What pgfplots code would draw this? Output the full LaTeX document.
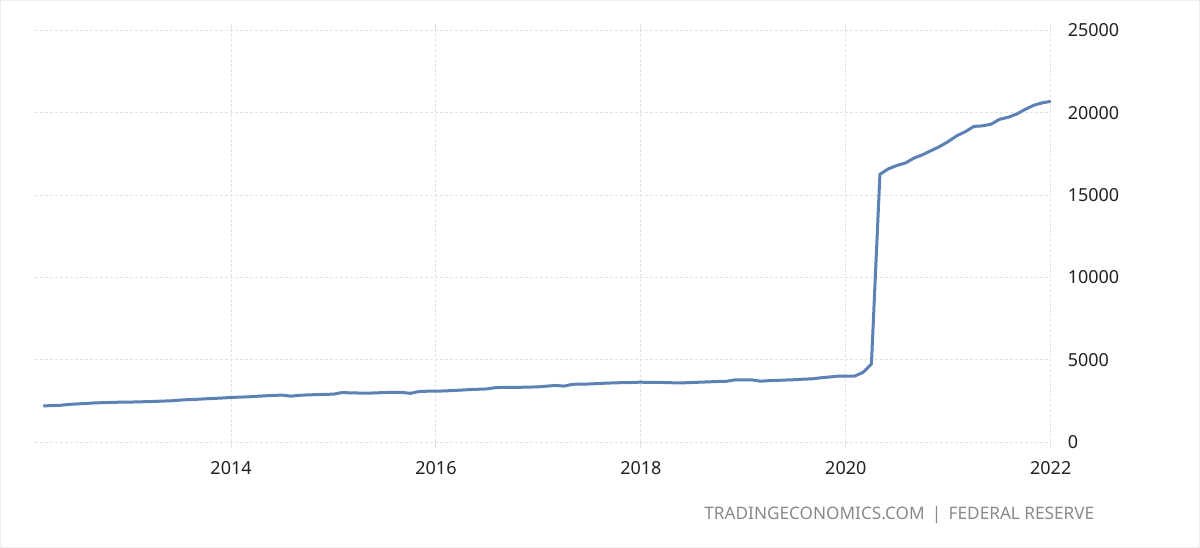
\documentclass[border=0pt]{standalone}
\usepackage{pgfplots}
\pgfplotsset{compat=1.18}
\usepackage{fontspec}
\setmainfont{Noto Sans}
\definecolor{lineblue}{HTML}{5B81B5}
\definecolor{gridgray}{HTML}{E2E2E2}
\definecolor{labelgray}{HTML}{8A8A8A}
\definecolor{ticktext}{HTML}{222222}
\pgfplotstableread{
x y
2012.167 2200
2012.250 2215
2012.333 2235
2012.417 2290
2012.500 2320
2012.583 2345
2012.667 2380
2012.750 2395
2012.833 2410
2012.917 2425
2013.000 2430
2013.083 2440
2013.167 2455
2013.250 2470
2013.333 2490
2013.417 2510
2013.500 2550
2013.583 2580
2013.667 2600
2013.750 2630
2013.833 2650
2013.917 2680
2014.000 2710
2014.083 2730
2014.167 2750
2014.250 2780
2014.333 2810
2014.417 2840
2014.500 2850
2014.583 2790
2014.667 2840
2014.750 2870
2014.833 2880
2014.917 2900
2015.000 2910
2015.083 3010
2015.167 2990
2015.250 2980
2015.333 2970
2015.417 2990
2015.500 3010
2015.583 3020
2015.667 3020
2015.750 2960
2015.833 3070
2015.917 3090
2016.000 3090
2016.083 3110
2016.167 3130
2016.250 3160
2016.333 3190
2016.417 3210
2016.500 3230
2016.583 3310
2016.667 3320
2016.750 3325
2016.833 3330
2016.917 3340
2017.000 3360
2017.083 3400
2017.167 3440
2017.250 3400
2017.333 3510
2017.417 3520
2017.500 3530
2017.583 3555
2017.667 3580
2017.750 3600
2017.833 3610
2017.917 3620
2018.000 3640
2018.083 3620
2018.167 3630
2018.250 3610
2018.333 3600
2018.417 3600
2018.500 3620
2018.583 3640
2018.667 3660
2018.750 3680
2018.833 3690
2018.917 3780
2019.000 3780
2019.083 3780
2019.167 3700
2019.250 3730
2019.333 3750
2019.417 3770
2019.500 3790
2019.583 3820
2019.667 3840
2019.750 3900
2019.833 3950
2019.917 4000
2020.000 4000
2020.083 4000
2020.167 4230
2020.250 4730
2020.333 16260
2020.417 16600
2020.500 16800
2020.583 16950
2020.667 17250
2020.750 17450
2020.833 17700
2020.917 17950
2021.000 18250
2021.083 18600
2021.167 18850
2021.250 19170
2021.333 19200
2021.417 19300
2021.500 19600
2021.583 19720
2021.667 19920
2021.750 20200
2021.833 20450
2021.917 20600
2022.000 20690
}\mdata
\begin{document}
\begin{tikzpicture}
\draw[draw=gridgray!60, fill=white] (0,0) rectangle (600pt,273.5pt);
\begin{axis}[
  at={(17.5pt,52.5pt)}, anchor=south west,
  scale only axis, width=508pt, height=206pt,
  xmin=2012.09, xmax=2022, ymin=0, ymax=25000,
  xtick={2014,2016,2018,2020,2022},
  xticklabels={2014,2016,2018,2020,2022},
  ytick={0,5000,10000,15000,20000,25000},
  yticklabels={0,5000,10000,15000,20000,25000},
  scaled y ticks=false, scaled x ticks=false,
  yticklabel pos=right,
  axis line style={draw=none},
  grid=major,
  major grid style={draw=gridgray, line width=0.5pt, dash pattern=on 1.5pt off 1pt},
  xtick style={draw=gridgray, line width=0.5pt},
  ytick style={draw=none},
  tick align=outside, major tick length=3pt,
  ticklabel style={font=\fontsize{9pt}{11pt}\selectfont, text=ticktext},
  yticklabel style={anchor=west, xshift=2pt},
  xticklabel style={yshift=-3pt},
  clip=false,
]
\addplot[lineblue, line width=1.5pt, line join=round] table[x=x,y=y]{\mdata};
\end{axis}
\node[anchor=east, text=labelgray, font=\fontsize{8.6pt}{10pt}\selectfont, inner sep=0pt] at (547.5pt,16pt) {TRADINGECONOMICS.COM \,|\, FEDERAL RESERVE};
\end{tikzpicture}
\end{document}
